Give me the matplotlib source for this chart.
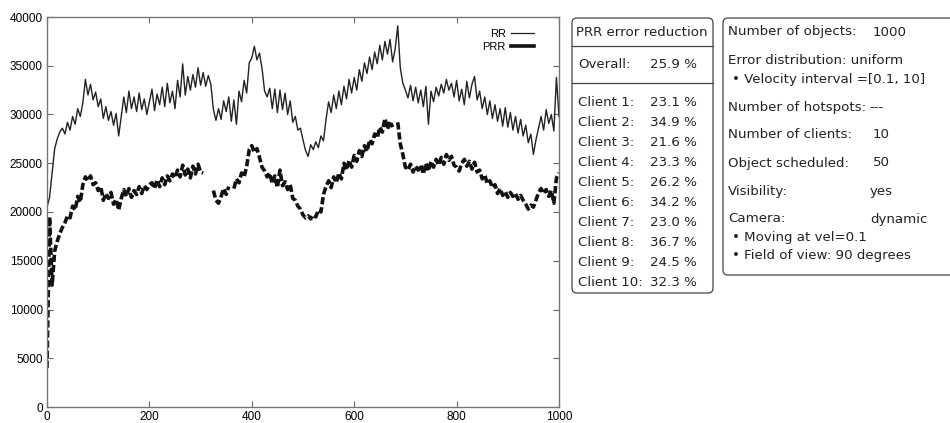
import numpy as np
import matplotlib.pyplot as plt
from matplotlib.patches import FancyBboxPatch
from matplotlib.lines import Line2D

# sample positions (every 5 steps)
x = np.arange(0, 1001, 5)

rr = [20500, 21500, 24000, 26500, 27500, 28200, 28600, 28000, 29200, 28400,
      29800, 29000, 30600, 29800, 31200, 33600, 32000, 33100, 31500, 32300,
      30800, 31600, 29600, 30800, 29400, 30300, 28900, 30100, 27800, 29800,
      31800, 30200, 32400, 30600, 31800, 30300, 32200, 30500, 31600, 30000,
      31300, 32600, 30400, 32100, 31000, 32800, 30800, 33200, 31200, 32400,
      30600, 33500, 31800, 35200, 32000, 33900, 32500, 34100, 32800, 34800,
      33000, 34300, 32900, 34000, 33100, 30500, 29400, 30600, 29500, 31400,
      30300, 31800, 29300, 31500, 29000, 32400, 31300, 33500, 32200, 35300,
      35800, 37000, 35600, 36300, 34700, 32400, 31800, 32700, 30600, 32600,
      30200, 32500, 30500, 32200, 30000, 31400, 29200, 29800, 28400, 28600,
      27400, 26300, 25700, 26900, 26400, 27200, 26600, 27800, 27300, 29500,
      31300, 30200, 32000, 30600, 32400, 31000, 32900, 31600, 33600, 32200,
      33800, 32500, 34600, 33400, 35300, 34200, 35900, 34600, 36400, 35200,
      37100, 35600, 37500, 36200, 37700, 35400, 36700, 39100, 34800, 33200,
      32500, 31700, 33000, 31400, 32800, 31200, 32500, 30800, 32900, 29000,
      32400, 31300, 32800, 31900, 33100, 32200, 33600, 32500, 33200, 31800,
      33500, 31400, 32600, 31000, 33400, 31700, 33100, 33900, 31500, 32400,
      30600, 31800, 30000, 31400, 29600, 31000, 29300, 30600, 28800, 30700,
      28700, 30200, 28400, 29800, 28100, 29500, 27800, 28900, 27100, 28000,
      25900, 27400, 28600, 29800, 28400, 30500, 29100, 30000, 28300, 33800,
      29800]

nan = np.nan
prr = [4000, 19500, 12500, 16000, 17000, 17800, 18400, 18900, 19600, 19400,
       20600, 20200, 21600, 21000, 22800, 23600, 23200, 23700, 22800, 23000,
       22200, 22600, 21200, 21900, 21400, 22000, 20800, 21300, 20200, 21400,
       22300, 21600, 22400, 21500, 22200, 21800, 22600, 21900, 22700, 22300,
       22800, 23000, 22400, 23300, 22600, 23500, 22800, 23700, 23200, 23900,
       23500, 24300, 23600, 24800, 23800, 24400, 23500, 24700, 23900, 24900,
       24100, 24000, nan, 24300, nan, 22200, 21200, 20900, 21600, 22400,
       21800, 22600, nan, 22400, 23400, 23000, 24000, 23600, 24700, 26400,
       26800, 26100, 26500, 25600, 24600, 24200, 23600, 24000, 22900, 23700,
       22500, 24300, 22700, 23100, 22300, 22800, 21400, 21200, 20600, 20300,
       19700, 19400, 19600, 19300, 19700, 19500, 20200, 20000, 21800, 22600,
       23200, 22500, 23600, 23000, 24000, 23400, 25000, 24300, 25300, 24600,
       25800, 25200, 26300, 25700, 26800, 26200, 27400, 27000, 28000, 27600,
       28700, 28200, 29600, 28500, 29300, 28700, nan, 29200, 27000, 25900,
       24600, 24300, 24900, 24100, 24700, 24300, 24800, 23900, 25000, 24200,
       25200, 24600, 25400, 24800, 25600, 24900, 25900, 25300, 25700, 24800,
       24600, 24200, 25000, 25400, 24700, 25200, 24400, 25100, 24100, 24300,
       23400, 23800, 22900, 23200, 22500, 22800, 21900, 22400, 21700, 22100,
       21500, 22000, 21600, 21900, 21300, 21700, 21200, 20800, 20300, 20700,
       20500, 21200, 22000, 22400, 21900, 22300, 21600, 22200, 20900, 23500,
       24000]

assert len(rr) == len(x) and len(prr) == len(x)

summary_head = 'PRR error reduction'
overall = ('Overall:', '25.9 %')
clients = ['Client 1:', 'Client 2:', 'Client 3:', 'Client 4:', 'Client 5:',
           'Client 6:', 'Client 7:', 'Client 8:', 'Client 9:', 'Client 10:']
client_vals = ['23.1 %', '34.9 %', '21.6 %', '23.3 %', '26.2 %',
               '34.2 %', '23.0 %', '36.7 %', '24.5 %', '32.3 %']

W, H = 950, 423
fig = plt.figure(figsize=(W / 100, H / 100), dpi=100)

# main plot
ax = fig.add_axes([47 / W, 1 - 407 / H, 512 / W, 390 / H])
ax.plot(x, rr, color='#222222', lw=1.0, label='RR')
ax.plot(x, prr, color='#111111', lw=2.6, dashes=(2.0, 0.8), label='PRR')
ax.set_xlim(0, 1000)
ax.set_ylim(0, 40000)
ax.set_xticks(range(0, 1001, 200))
ax.set_yticks(range(0, 40001, 5000))
ax.tick_params(direction='in', top=True, right=True, length=4, width=0.8,
               color='#666666', labelsize=8.5, pad=3)
for lab in ax.get_xticklabels() + ax.get_yticklabels():
    lab.set_fontfamily('Liberation Sans')
for s in ax.spines.values():
    s.set_color('#777777')
    s.set_linewidth(1.0)

handles = [Line2D([], [], color='#222222', lw=0.9, linestyle='-'),
           Line2D([], [], color='#111111', lw=2.6, linestyle='-')]
leg = ax.legend(handles, ['RR', 'PRR'], loc='upper right',
                bbox_to_anchor=(0.97, 0.995), frameon=False, markerfirst=False,
                handlelength=2.0, handletextpad=0.5, labelspacing=0.25,
                prop={'family': 'Liberation Sans', 'size': 8})

# overlay in pixel coordinates for the text boxes
ov = fig.add_axes([0, 0, 1, 1])
ov.set_xlim(0, W)
ov.set_ylim(H, 0)
ov.axis('off')

font = {'family': 'DejaVu Sans', 'size': 9.6, 'color': '#222222'}

# box 1: error reduction
b1 = FancyBboxPatch((572, 18), 141, 275, boxstyle='round,pad=0,rounding_size=5',
                    fc='white', ec='#444444', lw=0.9)
ov.add_patch(b1)
ov.plot([572, 713], [46, 46], color='#444444', lw=0.9)
ov.plot([572, 713], [83, 83], color='#444444', lw=0.9)
ov.text(642, 32, summary_head, ha='center', va='center', **font)
ov.text(578, 65, overall[0], ha='left', va='center', **font)
ov.text(650, 65, overall[1], ha='left', va='center', **font)
for i, (c, v) in enumerate(zip(clients, client_vals)):
    y = 103 + i * 20
    ov.text(578, y, c, ha='left', va='center', **font)
    ov.text(650, y, v, ha='left', va='center', **font)

# box 2: parameters
b2 = FancyBboxPatch((723, 18), 240, 257, boxstyle='round,pad=0,rounding_size=5',
                    fc='white', ec='#444444', lw=0.9, clip_on=False)
ov.add_patch(b2)
rows = [(32, 'Number of objects:', '1000'),
        (60, 'Error distribution: uniform', None),
        (80, '\u2022 Velocity interval =[0.1, 10]', None),
        (108, 'Number of hotspots:', '---'),
        (135, 'Number of clients:', '10'),
        (163, 'Object scheduled:', '50'),
        (191, 'Visibility:', 'yes'),
        (219, 'Camera:', 'dynamic'),
        (238, '\u2022 Moving at vel=0.1', None),
        (256, '\u2022 Field of view: 90 degrees', None)]
for y, lab, val in rows:
    xl = 732 if lab.startswith('\u2022') else 728
    ov.text(xl, y, lab, ha='left', va='center', **font)
    if val is not None:
        xv = 869 if val == '---' else (870 if val in ('yes', 'dynamic') else 873)
        ov.text(xv, y, val, ha='left', va='center', **font)

fig.savefig('out.png', dpi=100)
